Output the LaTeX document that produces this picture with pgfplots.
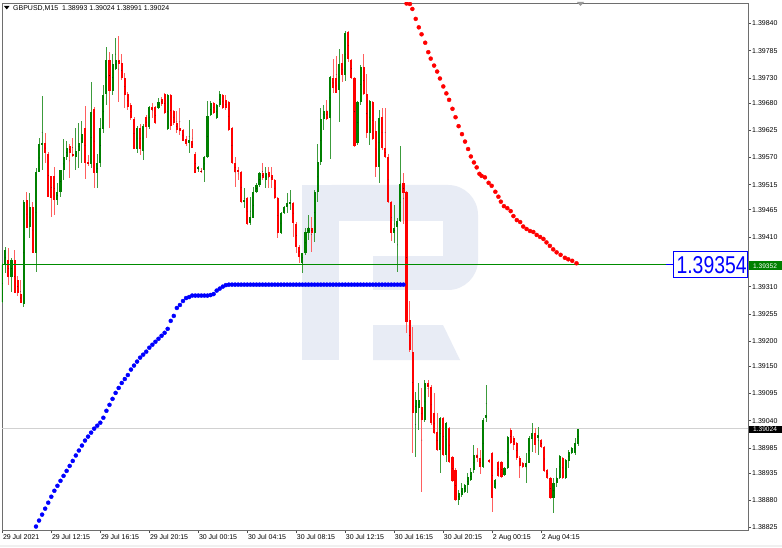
\documentclass[border=0pt]{standalone}
\usepackage{pgfplots}
\pgfplotsset{compat=1.18}
\usepackage{pgfplotstable}
\usepackage{fontspec}
\setmainfont{Liberation Sans}
\definecolor{cgreen}{RGB}{0,128,0}
\definecolor{cred}{RGB}{255,0,0}
\definecolor{wickg}{RGB}{60,155,60}
\definecolor{wickr}{RGB}{255,95,95}
\definecolor{wm}{RGB}{232,236,245}
\definecolor{sarb}{RGB}{0,0,255}
\definecolor{framec}{RGB}{110,110,110}
\definecolor{hline}{RGB}{0,140,0}

\pgfplotstableread{
k o h l c
0 1.39279 1.39358 1.39277 1.39354
1 1.39354 1.39390 1.39338 1.39384
3 1.39330 1.39368 1.39299 1.39364
7 1.39277 1.39485 1.39269 1.39481
9 1.39430 1.39499 1.39408 1.39471
11 1.39378 1.39549 1.39340 1.39541
12 1.39541 1.39611 1.39541 1.39599
13 1.39597 1.39694 1.39545 1.39601
18 1.39485 1.39519 1.39475 1.39501
19 1.39501 1.39545 1.39491 1.39545
20 1.39545 1.39609 1.39525 1.39571
21 1.39571 1.39605 1.39565 1.39591
24 1.39571 1.39631 1.39545 1.39585
25 1.39585 1.39639 1.39549 1.39601
26 1.39601 1.39645 1.39559 1.39619
29 1.39559 1.39724 1.39551 1.39664
31 1.39539 1.39579 1.39509 1.39559
32 1.39559 1.39649 1.39551 1.39629
33 1.39629 1.39716 1.39619 1.39698
34 1.39698 1.39794 1.39676 1.39768
36 1.39704 1.39780 1.39696 1.39760
37 1.39750 1.39811 1.39746 1.39768
44 1.39589 1.39635 1.39579 1.39631
46 1.39585 1.39639 1.39565 1.39635
48 1.39631 1.39676 1.39629 1.39672
51 1.39670 1.39690 1.39668 1.39682
54 1.39629 1.39700 1.39627 1.39698
61 1.39601 1.39647 1.39579 1.39607
64 1.39547 1.39553 1.39541 1.39551
66 1.39545 1.39573 1.39521 1.39571
67 1.39571 1.39684 1.39569 1.39655
68 1.39655 1.39684 1.39653 1.39680
70 1.39649 1.39678 1.39647 1.39676
71 1.39676 1.39704 1.39672 1.39698
79 1.39481 1.39509 1.39469 1.39485
81 1.39438 1.39491 1.39436 1.39450
82 1.39450 1.39511 1.39448 1.39501
83 1.39501 1.39519 1.39499 1.39515
84 1.39515 1.39541 1.39511 1.39539
86 1.39525 1.39551 1.39509 1.39539
91 1.39418 1.39462 1.39416 1.39460
92 1.39458 1.39473 1.39456 1.39471
93 1.39471 1.39499 1.39458 1.39479
94 1.39479 1.39505 1.39464 1.39481
98 1.39358 1.39378 1.39338 1.39378
99 1.39378 1.39430 1.39374 1.39420
100 1.39418 1.39454 1.39404 1.39430
102 1.39418 1.39505 1.39400 1.39501
103 1.39501 1.39599 1.39481 1.39561
104 1.39561 1.39670 1.39555 1.39649
105 1.39649 1.39676 1.39625 1.39666
107 1.39649 1.39736 1.39569 1.39732
110 1.39706 1.39788 1.39641 1.39760
112 1.39736 1.39827 1.39726 1.39821
116 1.39599 1.39684 1.39595 1.39682
117 1.39682 1.39756 1.39676 1.39754
120 1.39619 1.39686 1.39595 1.39684
123 1.39551 1.39666 1.39519 1.39651
128 1.39418 1.39475 1.39400 1.39430
129 1.39430 1.39448 1.39340 1.39444
130 1.39444 1.39595 1.39442 1.39519
135 1.39056 1.39098 1.38968 1.39082
136 1.39066 1.39116 1.39022 1.39082
138 1.39042 1.39123 1.39038 1.39116
143 1.38982 1.39048 1.38935 1.39046
145 1.38972 1.39038 1.38956 1.39036
149 1.38881 1.38901 1.38871 1.38895
150 1.38891 1.38915 1.38887 1.38905
151 1.38897 1.38913 1.38895 1.38911
152 1.38911 1.38935 1.38895 1.38927
153 1.38921 1.38945 1.38919 1.38937
154 1.38941 1.38992 1.38937 1.38972
157 1.38947 1.39046 1.38945 1.39042
158 1.39046 1.39112 1.39038 1.39052
161 1.38905 1.38923 1.38903 1.38921
164 1.38931 1.38947 1.38929 1.38945
165 1.38945 1.39010 1.38943 1.39008
171 1.38947 1.38976 1.38915 1.38956
172 1.38956 1.39010 1.38954 1.39006
173 1.39006 1.39036 1.38978 1.39018
175 1.39006 1.39028 1.38972 1.39012
180 1.38885 1.38925 1.38855 1.38915
181 1.38915 1.38945 1.38907 1.38925
182 1.38925 1.38972 1.38923 1.38968
184 1.38925 1.38964 1.38923 1.38962
185 1.38958 1.38982 1.38947 1.38978
186 1.38976 1.38988 1.38974 1.38986
187 1.38976 1.39006 1.38972 1.38996
188 1.38993 1.39024 1.38991 1.39024
}\upbars

\pgfplotstableread{
k o h l c
2 1.39364 1.39388 1.39314 1.39330
4 1.39364 1.39384 1.39297 1.39297
5 1.39324 1.39332 1.39293 1.39297
6 1.39297 1.39324 1.39279 1.39279
8 1.39485 1.39501 1.39430 1.39430
10 1.39471 1.39481 1.39378 1.39378
14 1.39599 1.39619 1.39559 1.39579
15 1.39579 1.39581 1.39491 1.39491
16 1.39533 1.39533 1.39450 1.39489
17 1.39533 1.39551 1.39454 1.39485
22 1.39595 1.39599 1.39529 1.39579
23 1.39579 1.39611 1.39571 1.39573
27 1.39629 1.39676 1.39529 1.39559
28 1.39561 1.39575 1.39553 1.39557
30 1.39668 1.39672 1.39509 1.39539
35 1.39768 1.39782 1.39629 1.39704
38 1.39768 1.39815 1.39682 1.39760
39 1.39760 1.39780 1.39726 1.39730
40 1.39730 1.39740 1.39670 1.39696
41 1.39698 1.39702 1.39666 1.39672
42 1.39676 1.39680 1.39645 1.39649
43 1.39649 1.39651 1.39589 1.39589
45 1.39631 1.39639 1.39575 1.39589
47 1.39651 1.39655 1.39609 1.39631
49 1.39672 1.39680 1.39649 1.39666
50 1.39672 1.39674 1.39637 1.39639
52 1.39688 1.39692 1.39674 1.39678
53 1.39698 1.39700 1.39658 1.39660
55 1.39698 1.39700 1.39627 1.39635
56 1.39664 1.39666 1.39635 1.39639
57 1.39639 1.39666 1.39621 1.39625
58 1.39631 1.39670 1.39615 1.39625
59 1.39627 1.39629 1.39605 1.39605
60 1.39609 1.39615 1.39595 1.39599
62 1.39605 1.39629 1.39591 1.39591
63 1.39579 1.39581 1.39539 1.39539
65 1.39543 1.39549 1.39539 1.39541
69 1.39680 1.39682 1.39658 1.39660
72 1.39696 1.39698 1.39668 1.39670
73 1.39686 1.39696 1.39666 1.39670
74 1.39682 1.39684 1.39623 1.39625
75 1.39629 1.39631 1.39557 1.39559
76 1.39559 1.39571 1.39511 1.39541
77 1.39545 1.39551 1.39525 1.39543
78 1.39541 1.39543 1.39479 1.39481
80 1.39489 1.39491 1.39436 1.39438
85 1.39539 1.39559 1.39525 1.39529
87 1.39541 1.39551 1.39509 1.39531
88 1.39535 1.39551 1.39509 1.39525
89 1.39525 1.39527 1.39487 1.39489
90 1.39489 1.39491 1.39408 1.39418
95 1.39479 1.39481 1.39410 1.39438
96 1.39438 1.39440 1.39378 1.39390
97 1.39390 1.39394 1.39358 1.39370
101 1.39430 1.39450 1.39380 1.39418
106 1.39666 1.39686 1.39645 1.39649
108 1.39732 1.39768 1.39700 1.39710
109 1.39730 1.39776 1.39700 1.39700
111 1.39760 1.39780 1.39722 1.39736
113 1.39823 1.39825 1.39762 1.39768
114 1.39768 1.39770 1.39730 1.39732
115 1.39732 1.39734 1.39593 1.39595
118 1.39754 1.39780 1.39696 1.39698
119 1.39698 1.39740 1.39611 1.39619
121 1.39684 1.39686 1.39607 1.39609
122 1.39625 1.39645 1.39531 1.39551
124 1.39651 1.39670 1.39585 1.39589
125 1.39589 1.39670 1.39569 1.39571
126 1.39571 1.39579 1.39479 1.39481
127 1.39481 1.39483 1.39404 1.39418
131 1.39519 1.39541 1.39438 1.39499
132 1.39501 1.39503 1.39217 1.39239
133 1.39243 1.39283 1.39179 1.39183
134 1.39179 1.39229 1.38976 1.39056
137 1.39068 1.39106 1.38897 1.39042
139 1.39116 1.39123 1.39088 1.39108
140 1.39108 1.39112 1.39032 1.39036
141 1.39056 1.39096 1.39014 1.39016
142 1.39018 1.39056 1.38980 1.38982
144 1.39046 1.39048 1.38968 1.38972
146 1.39026 1.39028 1.38956 1.38958
147 1.38968 1.38970 1.38919 1.38921
148 1.38941 1.38945 1.38879 1.38881
155 1.38972 1.38986 1.38956 1.38966
156 1.38966 1.38982 1.38935 1.38947
159 1.38962 1.38964 1.38956 1.38958
160 1.38976 1.38978 1.38857 1.38885
162 1.38958 1.38960 1.38929 1.38931
163 1.38958 1.38960 1.38925 1.38927
166 1.39022 1.39026 1.38994 1.38996
167 1.39006 1.39010 1.38982 1.38992
168 1.38996 1.38998 1.38962 1.38966
169 1.38966 1.38968 1.38925 1.38951
170 1.38956 1.38958 1.38945 1.38947
174 1.39016 1.39026 1.38976 1.38992
176 1.39002 1.39004 1.38986 1.38988
177 1.38988 1.38990 1.38939 1.38941
178 1.38941 1.38943 1.38923 1.38925
179 1.38925 1.38927 1.38883 1.38885
183 1.38966 1.38968 1.38923 1.38925
}\dnbars

\pgfplotsset{
  candle/.style 2 args={forget plot, only marks, mark=*, mark size=0.01pt,
    mark options={draw=none, fill=none},
    error bars/.cd, y dir=both, y explicit, error mark=none,
    error bar style={line width=#1, draw=#2}},
}

\begin{document}
\begin{tikzpicture}[x=1pt,y=1pt]
\fill[white] (0,0) rectangle (782,547);
\fill[black!6] (0,0) rectangle (782,2);
% watermark logo
\fill[wm] (302,187) rectangle (339,362);
\fill[wm, rounded corners=30pt] (302,257) rectangle (478,362);
\fill[white] (339,291) rectangle (443,326);
\fill[white] (339,257) rectangle (373,291);
\fill[wm] (373,222) -- (443,222) -- (460,187) -- (373,187) -- cycle;
\begin{axis}[
  at={(2pt,17pt)}, anchor=south west, scale only axis,
  width=746pt, height=527pt,
  xmin=-0.1, xmax=243.5, ymin=1.38820, ymax=1.39881,
  axis line style={draw=framec, line width=0.8pt},
  xtick={0,16,32,48,64,80,96,112,128,144,160,176},
  xticklabels={29 Jul 2021,29 Jul 12:15,29 Jul 16:15,29 Jul 20:15,30 Jul 00:15,30 Jul 04:15,30 Jul 08:15,30 Jul 12:15,30 Jul 16:15,30 Jul 20:15,2 Aug 00:15,2 Aug 04:15},
  ytick={1.39840,1.39785,1.39730,1.39680,1.39625,1.39570,1.39515,1.39465,1.39410,1.39355,1.39310,1.39255,1.39200,1.39150,1.39095,1.39040,1.38985,1.38935,1.38880,1.38825},
  yticklabels={1.39840,1.39785,1.39730,1.39680,1.39625,1.39570,1.39515,1.39465,1.39410,{},1.39310,1.39255,1.39200,1.39150,1.39095,1.39040,1.38985,1.38935,1.38880,1.38825},
  xtick pos=lower, ytick pos=right, yticklabel pos=right,
  tick align=outside, major tick length=3pt,
  tick style={draw=black!70, line width=0.6pt},
  x tick label style={font=\fontsize{7}{8}\selectfont, anchor=north west, inner sep=0pt, xshift=0.5pt, yshift=-1.5pt},
  y tick label style={font=\fontsize{7}{8}\selectfont, anchor=west, inner sep=0pt, xshift=1pt},
  clip marker paths=true,
  scaled y ticks=false,
]
% bid line
\addplot[black!18, line width=0.8pt, forget plot] coordinates {(-0.1,1.39024) (243.5,1.39024)};
% wicks
\addplot[candle={0.9pt}{wickg}]
  table[x=k, y expr={(\thisrow{h}+\thisrow{l})/2}, y error expr={(\thisrow{h}-\thisrow{l})/2}] {\upbars};
\addplot[candle={0.9pt}{wickr}]
  table[x=k, y expr={(\thisrow{h}+\thisrow{l})/2}, y error expr={(\thisrow{h}-\thisrow{l})/2}] {\dnbars};
% bodies
\addplot[candle={2.1pt}{cgreen}]
  table[x=k, y expr={(\thisrow{o}+\thisrow{c})/2}, y error expr={max(abs(\thisrow{c}-\thisrow{o})/2,0.00001)}] {\upbars};
\addplot[candle={2.1pt}{cred}]
  table[x=k, y expr={(\thisrow{o}+\thisrow{c})/2}, y error expr={max(abs(\thisrow{c}-\thisrow{o})/2,0.00001)}] {\dnbars};
% horizontal level
\addplot[hline, line width=1.3pt, forget plot] coordinates {(-0.1,1.39354) (243.5,1.39354)};
% SAR up (blue)
\addplot[only marks, mark=*, mark size=2pt, color=sarb, mark options={fill=sarb, draw=none}, forget plot] coordinates {
(11,1.38827) (12,1.38839) (13,1.38851) (14,1.38863) (15,1.38875) (16,1.38887) (17,1.38899) (18,1.38909)
(19,1.38919) (20,1.38929) (21,1.38939) (22,1.38949) (23,1.38959) (24,1.38970) (25,1.38980) (26,1.38990)
(27,1.39000) (28,1.39008) (29,1.39016) (30,1.39024) (31,1.39030) (32,1.39036) (33,1.39046) (34,1.39060)
(35,1.39072) (36,1.39084) (37,1.39096) (38,1.39106) (39,1.39116) (40,1.39124) (41,1.39132) (42,1.39143)
(43,1.39151) (44,1.39159) (45,1.39167) (46,1.39173) (47,1.39179) (48,1.39187) (49,1.39193) (50,1.39199)
(51,1.39205) (52,1.39211) (53,1.39217) (54,1.39225) (55,1.39241) (56,1.39251) (57,1.39267) (58,1.39273)
(59,1.39281) (60,1.39287) (61,1.39289) (62,1.39292) (63,1.39292) (64,1.39292) (65,1.39292) (66,1.39292)
(67,1.39292) (68,1.39293) (69,1.39295) (70,1.39302) (71,1.39306) (72,1.39310) (73,1.39313)
(74,1.39314) (75,1.39314) (76,1.39314) (77,1.39314) (78,1.39314) (79,1.39314) (80,1.39314) (81,1.39314)
(82,1.39314) (83,1.39314) (84,1.39314) (85,1.39314) (86,1.39314) (87,1.39314) (88,1.39314) (89,1.39314)
(90,1.39314) (91,1.39314) (92,1.39314) (93,1.39314) (94,1.39314) (95,1.39314) (96,1.39314) (97,1.39314)
(98,1.39314) (99,1.39314) (100,1.39314) (101,1.39314) (102,1.39314) (103,1.39314) (104,1.39314) (105,1.39314)
(106,1.39314) (107,1.39314) (108,1.39314) (109,1.39314) (110,1.39314) (111,1.39314) (112,1.39314) (113,1.39314)
(114,1.39314) (115,1.39314) (116,1.39314) (117,1.39314) (118,1.39314) (119,1.39314) (120,1.39314) (121,1.39314)
(122,1.39314) (123,1.39314) (124,1.39314) (125,1.39314) (126,1.39314) (127,1.39314) (128,1.39314) (129,1.39314)
(130,1.39314) (131,1.39314)};
% SAR down (red)
\addplot[only marks, mark=*, mark size=2pt, color=cred, mark options={fill=cred, draw=none}, forget plot] coordinates {
(132.0,1.39880) (133.1,1.39879) (133.9,1.39869) (135.0,1.39849) (136.0,1.39832) (136.9,1.39818) (138.1,1.39801)
(139.1,1.39782) (139.9,1.39769) (141.0,1.39755) (142.0,1.39743) (142.9,1.39729) (144.0,1.39713) (145.0,1.39699)
(145.9,1.39686) (147.0,1.39668) (148.0,1.39651) (149.0,1.39633) (150.1,1.39617) (151.1,1.39602) (152.1,1.39587)
(153.0,1.39572) (154.0,1.39560) (154.9,1.39550) (155.8,1.39537) (156.5,1.39533) (157.6,1.39530) (158.8,1.39519)
(159.8,1.39513) (161.0,1.39501) (162.0,1.39491) (162.8,1.39481) (163.8,1.39472) (164.9,1.39468) (166.0,1.39462)
(166.9,1.39452) (168.0,1.39444) (169.1,1.39440) (170.1,1.39431) (171.2,1.39426) (172.3,1.39422) (173.4,1.39420)
(174.5,1.39414) (175.6,1.39410) (176.7,1.39406) (177.7,1.39399) (178.8,1.39392) (179.9,1.39385) (181.0,1.39379)
(182.3,1.39374) (183.7,1.39368) (184.8,1.39365) (186.1,1.39362) (187.5,1.39357)};
\end{axis}
% header
\fill[black] (4,541) -- (9.5,541) -- (6.75,537.5) -- cycle;
\node[anchor=west, inner sep=0pt, font=\fontsize{7}{8}\selectfont] at (13,538.5) {GBPUSD,M15\ \ 1.38993 1.39024 1.38991 1.39024};
\fill[black!40] (577,545) -- (584,545) -- (580.5,541) -- cycle;
% price labels on the scale
\fill[cgreen] (748.6,277) rectangle (781.5,285.5);
\node[text=white, inner sep=0pt, font=\fontsize{6.6}{7}\selectfont] at (765,281.2) {1.39352};
\fill[black] (748.6,113.7) rectangle (781.5,121.5);
\node[text=white, inner sep=0pt, font=\fontsize{6.6}{7}\selectfont] at (765,117.6) {1.39024};
% big level label
\draw[sarb, line width=0.8pt] (666,282.5) -- (673,282.5);
\draw[sarb, fill=white, line width=0.8pt] (673,269.5) rectangle (747.6,295.3);
\node[text=sarb, inner sep=0pt, anchor=east] at (746.8,281.8) {\resizebox{70pt}{17pt}{1.39354}};
\end{tikzpicture}
\end{document}
